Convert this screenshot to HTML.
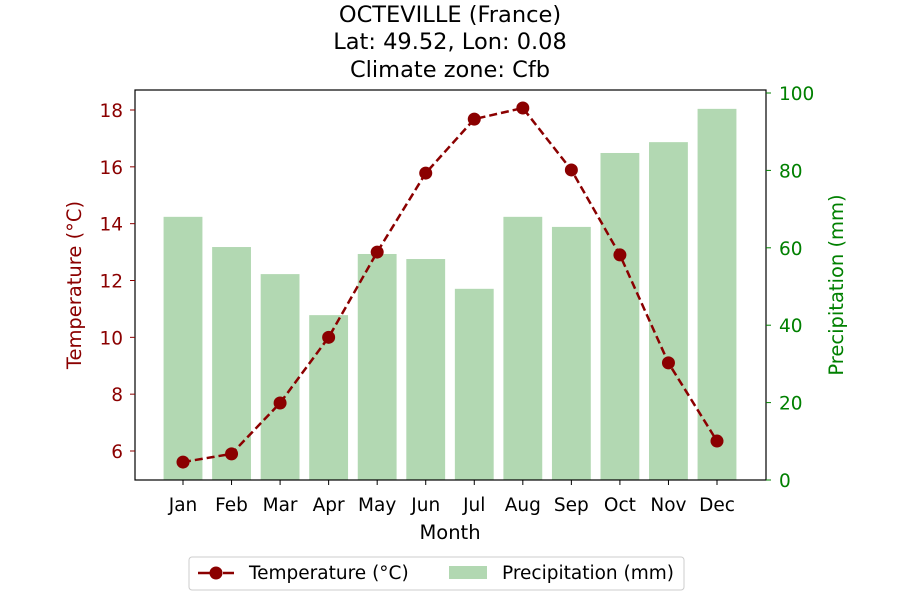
<!DOCTYPE html>
<html><head><meta charset="utf-8"><style>
body{margin:0;background:#fff;}
svg text{font-family:"DejaVu Sans","Liberation Sans",sans-serif;}
</style></head><body>
<svg id="chart" width="900" height="600" xmlns="http://www.w3.org/2000/svg">
<g id="bars"></g>
<g id="line"></g>
<g id="axes"></g>
<text x="450" y="22" text-anchor="middle" font-size="22.5">OCTEVILLE (France)</text>
<text x="450" y="49" text-anchor="middle" font-size="22.5">Lat: 49.52, Lon: 0.08</text>
<text x="450" y="77" text-anchor="middle" font-size="22.5">Climate zone: Cfb</text>
<text x="450" y="539" text-anchor="middle" font-size="19.5">Month</text>
<text transform="translate(81,285) rotate(-90)" text-anchor="middle" font-size="19.5" fill="#8b0000">Temperature (°C)</text>
<text transform="translate(843,285) rotate(-90)" text-anchor="middle" font-size="19.5" fill="#008000">Precipitation (mm)</text>
<g>
<rect x="189" y="557" width="495" height="33" rx="3" fill="#fff" stroke="#ccc"/>
<g>
<line x1="198" y1="573" x2="234" y2="573" stroke="#8b0000" stroke-width="2.5" stroke-dasharray="14,4,3,4"/>
<circle cx="216" cy="573" r="6.5" fill="#8b0000"/>
<text x="249" y="579" font-size="18.5">Temperature (°C)</text></g>
<g>
<rect x="449" y="566" width="38" height="13" fill="#b2d8b2"/>
<text x="502" y="579" font-size="18.5">Precipitation (mm)</text></g>
</g>
</svg>
<script>
const months=["Jan","Feb","Mar","Apr","May","Jun","Jul","Aug","Sep","Oct","Nov","Dec"];
const temps=[5.61,5.9,7.69,10.0,13.0,15.78,17.68,18.07,15.89,12.9,9.1,6.35];
const precip=[68,60.2,53.2,42.6,58.4,57.1,49.4,68,65.4,84.5,87.3,95.9];
const tempTicks=[6,8,10,12,14,16,18];
const precTicks=[0,20,40,60,80,100];
const NS="http://www.w3.org/2000/svg";
const L=135,R=766,T=90,B=480;
const xScale=i=>183+i*(717-183)/11;
const step=(717-183)/11;
const yT=v=>451-(v-6)*(451-110)/12;
const yP=v=>480-v*(480-93)/100;
function mk(tag,attrs,parent){const e=document.createElementNS(NS,tag);for(const k in attrs)e.setAttribute(k,attrs[k]);parent.appendChild(e);return e;}
const bars=document.getElementById('bars'),line=document.getElementById('line'),axes=document.getElementById('axes');
precip.forEach((p,i)=>{const w=step*0.8;
const r=mk('rect',{x:xScale(i)-w/2,y:yP(p),width:w,height:yP(0)-yP(p),fill:'#b2d8b2'},bars);

});
const pl=mk('polyline',{points:temps.map((t,i)=>xScale(i)+','+yT(t)).join(' '),fill:'none',stroke:'#8b0000','stroke-width':2.5,'stroke-dasharray':'8,4'},line);


temps.forEach((t,i)=>{const c=mk('circle',{cx:xScale(i),cy:yT(t),r:6.5,fill:'#8b0000'},line);

});
const fr=mk('rect',{x:L,y:T,width:R-L,height:B-T,fill:'none',stroke:'#000','stroke-width':1.2},axes);


tempTicks.forEach(v=>{const y=yT(v);mk('line',{x1:L-5,x2:L,y1:y,y2:y,stroke:'#8b0000'},axes);
const t=mk('text',{x:L-12,y:y+7,'text-anchor':'end','font-size':18.5,fill:'#8b0000'},axes);t.textContent=v;

});
precTicks.forEach(v=>{const y=yP(v);mk('line',{x1:R,x2:R+5,y1:y,y2:y,stroke:'#008000'},axes);
const t=mk('text',{x:R+13,y:y+7,'font-size':18.5,fill:'#008000'},axes);t.textContent=v;

});
months.forEach((m,i)=>{const x=xScale(i);mk('line',{x1:x,x2:x,y1:B,y2:B+5,stroke:'#000'},axes);
const t=mk('text',{x:x,y:B+31,'text-anchor':'middle','font-size':18.5},axes);t.textContent=m;

});
</script>
</body></html>
